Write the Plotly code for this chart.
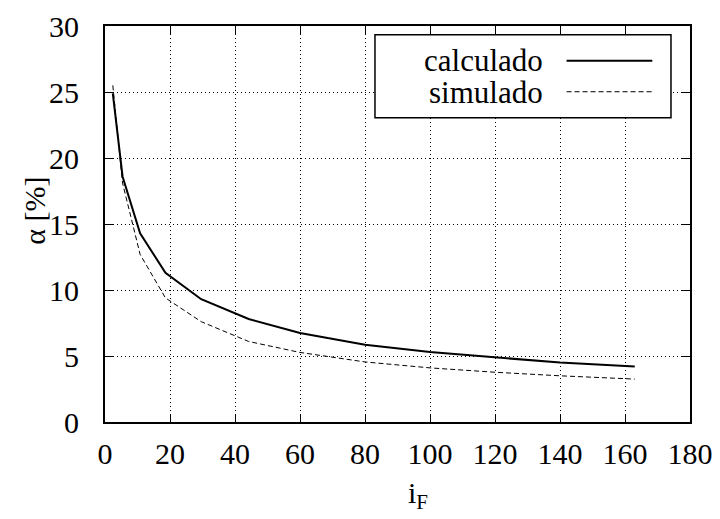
import plotly.graph_objects as go

# Data
i_F = [2.4, 5.4, 10.8, 18.6, 29.6, 44.2, 60, 80, 100, 120, 140, 163]
calculado = [24.9, 18.6, 14.3, 11.3, 9.3, 7.8, 6.75, 5.85, 5.3, 4.9, 4.5, 4.2]
simulado = [25.5, 18.1, 12.7, 9.4, 7.6, 6.1, 5.27, 4.55, 4.1, 3.77, 3.5, 3.25]

x_ticks = [0, 20, 40, 60, 80, 100, 120, 140, 160, 180]
y_ticks = [0, 5, 10, 15, 20, 25, 30]
legend_labels = ["calculado", "simulado"]
x_title = "i<sub>F</sub>"
y_title = "α [%]"

FONT = "Liberation Serif, Times New Roman, serif"
FS = 30

fig = go.Figure()
fig.add_trace(go.Scatter(x=i_F, y=calculado, mode="lines", name=legend_labels[0],
                         line=dict(color="black", width=2), showlegend=False))
fig.add_trace(go.Scatter(x=i_F, y=simulado, mode="lines", name=legend_labels[1],
                         line=dict(color="black", width=1, dash="5px,3px"), showlegend=False))

axis_common = dict(
    showline=True, linecolor="black", linewidth=2, mirror="ticks",
    ticks="inside", ticklen=8, tickwidth=1, tickcolor="black",
    showgrid=True, gridcolor="black", gridwidth=1, griddash="1px,3px",
    zeroline=False, tickfont=dict(family=FONT, size=FS, color="black"),
    automargin=False,
)

fig.update_xaxes(range=[0, 180], tickvals=x_ticks, ticktext=[str(v) for v in x_ticks],
                 ticklabelstandoff=4, **axis_common)
fig.update_yaxes(range=[0, 30], tickvals=y_ticks, ticktext=[str(v) for v in y_ticks],
                 ticklabelstandoff=18, **axis_common)

# Legend (gnuplot style: text right-aligned, sample on the right)
shapes = [
    dict(type="rect", xref="paper", yref="paper", x0=0.4615, x1=0.9675, y0=0.7684, y1=0.978,
         line=dict(color="black", width=1.5), fillcolor="white", layer="above"),
    dict(type="line", xref="paper", yref="paper", x0=0.789, x1=0.9356, y0=0.9124, y1=0.9124,
         line=dict(color="black", width=2), layer="above"),
    dict(type="line", xref="paper", yref="paper", x0=0.789, x1=0.9356, y0=0.834, y1=0.834,
         line=dict(color="black", width=1, dash="5px,3px"), layer="above"),
]
annotations = [
    dict(xref="paper", yref="paper", x=0.752, y=0.912, text=legend_labels[0], showarrow=False,
         xanchor="right", yanchor="middle", font=dict(family=FONT, size=31, color="black")),
    dict(xref="paper", yref="paper", x=0.752, y=0.832, text=legend_labels[1], showarrow=False,
         xanchor="right", yanchor="middle", font=dict(family=FONT, size=31, color="black")),
    dict(xref="paper", yref="paper", x=0.535, y=-0.185, text=x_title, showarrow=False,
         xanchor="center", yanchor="middle", font=dict(family=FONT, size=FS, color="black")),
    dict(xref="paper", yref="paper", x=-0.12, y=0.533, text=y_title, showarrow=False, textangle=-90,
         xanchor="center", yanchor="middle", font=dict(family=FONT, size=FS, color="black")),
]

# The page adds an 8px body margin; compensate so the plot lands where the reference has it
fig.update_layout(
    width=712, height=511,
    margin=dict(l=97, r=30, t=18, b=97),
    plot_bgcolor="white", paper_bgcolor="white",
    shapes=shapes, annotations=annotations,
)

fig.write_html("out.html")
